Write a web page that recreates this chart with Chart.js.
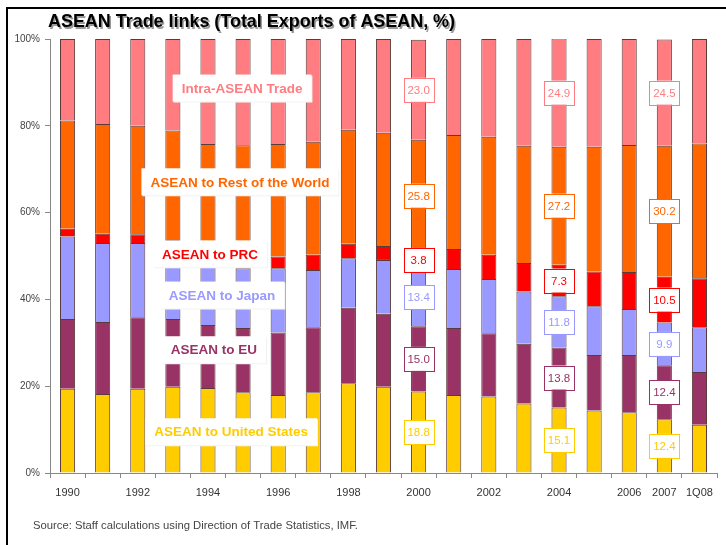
<!DOCTYPE html>
<html>
<head>
<meta charset="utf-8">
<script src="https://cdn.jsdelivr.net/npm/chart.js@4.4.1/dist/chart.umd.min.js"></script>
<style>
    html, body { margin: 0; padding: 0; background: #ffffff; }
</style>
</head>
<body>
<canvas id="tradeChart" width="726" height="545"></canvas>
<script>
// categories
var years = ['1990', '1991', '1992', '1993', '1994', '1995', '1996', '1997', '1998', '1999',
             '2000', '2001', '2002', '2003', '2004', '2005', '2006', '2007', '1Q08'];
var tickYears = ['1990', '1992', '1994', '1996', '1998', '2000', '2002', '2004', '2006', '2007', '1Q08'];
var yTicks = [0, 20, 40, 60, 80, 100];

// shares of total exports, % (bottom to top)
var usShare    = [19.4, 18.2, 19.4, 19.9, 19.6, 18.6, 18.0, 18.6, 20.7, 19.9, 18.8, 18.0, 17.6, 16.0, 15.1, 14.4, 14.0, 12.4, 11.1];
var euShare    = [16.1, 16.6, 16.5, 15.6, 14.5, 14.8, 14.4, 15.0, 17.4, 16.8, 15.0, 15.4, 14.6, 13.8, 13.8, 12.8, 13.2, 12.4, 12.2];
var japanShare = [19.0, 18.2, 17.1, 17.5, 16.4, 13.8, 14.8, 13.2, 11.4, 12.4, 13.4, 13.6, 12.5, 12.0, 11.8, 11.2, 10.6,  9.9, 10.3];
var prcShare   = [ 1.8,  2.1,  2.0,  0.7,  1.0,  0.8,  2.7,  3.5,  3.3,  3.2,  3.8,  4.6,  5.6,  6.6,  7.3,  8.0,  8.5, 10.5, 11.3];
var restShare  = [24.9, 25.3, 25.0, 25.2, 24.3, 27.5, 25.9, 26.0, 26.3, 26.1, 25.8, 26.3, 27.2, 27.0, 27.2, 28.8, 29.3, 30.2, 31.0];
var intraShare = [18.8, 19.6, 20.0, 21.1, 24.2, 24.5, 24.2, 23.7, 20.9, 21.6, 23.0, 22.1, 22.5, 24.6, 24.9, 24.8, 24.4, 24.5, 24.1];

var seriesNames = ['ASEAN to United States', 'ASEAN to EU', 'ASEAN to Japan', 'ASEAN to PRC',
                   'ASEAN to Rest of the World', 'Intra-ASEAN Trade'];
var labelledYears = ['2000', '2004', '2007'];

var colors = ['#FFCC00', '#993366', '#9999FF', '#FF0000', '#FF6600', '#FF7C80'];

// where the series names sit (category index, % value)
var nameSpots = [
    { col: 4.66, val: 9.5 },
    { col: 4.17, val: 28.4 },
    { col: 4.40, val: 41.0 },
    { col: 4.06, val: 50.5 },
    { col: 4.91, val: 67.1 },
    { col: 4.97, val: 88.7 }
];

var FONT = '"Liberation Sans", Arial, sans-serif';

var allSeries = [usShare, euShare, japanShare, prcShare, restShare, intraShare];
var datasets = allSeries.map(function(values, i) {
    return {
        label: seriesNames[i],
        data: values,
        backgroundColor: colors[i],
        borderColor: 'rgba(60, 25, 25, 0.85)',
        borderWidth: 1,
        categoryPercentage: 1,
        barPercentage: 0.43
    };
});

function fitText(ctx, text, x, y, width) {
    var w = ctx.measureText(text).width;
    ctx.save();
    ctx.translate(x, y);
    ctx.scale(width / w, 1);
    ctx.fillText(text, 0, 0);
    ctx.restore();
}

var annotations = {
    id: 'annotations',
    afterDatasetsDraw: function(chart) {
        var ctx = chart.ctx;
        var xs = chart.scales.x;
        var ys = chart.scales.y;
        ctx.save();

        // series names in white boxes
        ctx.font = 'bold 13.5px ' + FONT;
        ctx.textAlign = 'center';
        ctx.textBaseline = 'middle';
        nameSpots.forEach(function(spot, i) {
            var cx = xs.getPixelForValue(spot.col);
            var cy = ys.getPixelForValue(spot.val);
            var tw = ctx.measureText(seriesNames[i]).width;
            var bw = tw + 18, bh = 27;
            ctx.fillStyle = '#f2f2f2';
            ctx.fillRect(cx - bw / 2 + 1, cy - bh / 2 + 1, bw, bh);
            ctx.fillStyle = '#ffffff';
            ctx.fillRect(cx - bw / 2, cy - bh / 2, bw, bh);
            ctx.fillStyle = colors[i];
            ctx.fillText(seriesNames[i], cx, cy + 1);
        });

        // value boxes on chosen years
        ctx.font = '11.5px ' + FONT;
        chart.data.datasets.forEach(function(ds, di) {
            var meta = chart.getDatasetMeta(di);
            labelledYears.forEach(function(yr) {
                var idx = years.indexOf(yr);
                var bar = meta.data[idx].getProps(['x', 'y', 'base'], true);
                var cy = (bar.y + bar.base) / 2;
                var bw = 30, bh = 24;
                ctx.fillStyle = '#ffffff';
                ctx.fillRect(bar.x - bw / 2, cy - bh / 2, bw, bh);
                ctx.strokeStyle = colors[di];
                ctx.lineWidth = 1;
                ctx.strokeRect(Math.round(bar.x - bw / 2) + 0.5, Math.round(cy - bh / 2) + 0.5, bw, bh);
                ctx.fillStyle = colors[di];
                ctx.fillText(ds.data[idx].toFixed(1), bar.x, cy + 1);
            });
        });
        ctx.restore();
    },
    afterDraw: function(chart) {
        var ctx = chart.ctx;
        ctx.save();
        // frame
        ctx.fillStyle = '#000000';
        ctx.fillRect(6, 7, 720, 2);
        ctx.fillRect(6, 7, 2, 538);

        // title
        ctx.textAlign = 'left';
        ctx.textBaseline = 'alphabetic';
        ctx.font = 'bold 19px ' + FONT;
        ctx.fillStyle = '#9a9a9a';
        fitText(ctx, 'ASEAN Trade links (Total Exports of ASEAN, %)', 49.5, 28.5, 407);
        ctx.fillStyle = '#000000';
        fitText(ctx, 'ASEAN Trade links (Total Exports of ASEAN, %)', 48, 27, 407);

        // source line
        ctx.font = '10.5px ' + FONT;
        ctx.fillStyle = '#444444';
        fitText(ctx, 'Source: Staff calculations using Direction of Trade Statistics, IMF.', 33, 529, 325);
        ctx.restore();
    }
};

var ctx = document.getElementById('tradeChart').getContext('2d');
window.tradeChart = new Chart(ctx, {
    type: 'bar',
    data: {
        labels: years,
        datasets: datasets
    },
    options: {
        responsive: false,
        animation: false,
        layout: {
            padding: { top: 39, right: 9, bottom: 0, left: 0 }
        },
        plugins: {
            legend: { display: false },
            tooltip: { enabled: false },
            title: { display: false }
        },
        scales: {
            x: {
                stacked: true,
                grid: { drawOnChartArea: false, drawTicks: true, tickLength: 5, color: '#888888', offset: true },
                border: { color: '#888888' },
                ticks: {
                    autoSkip: false,
                    maxRotation: 0,
                    padding: 8,
                    color: '#333333',
                    font: { family: FONT, size: 11 },
                    callback: function(value, index) {
                        return tickYears.indexOf(years[index]) >= 0 ? years[index] : '';
                    }
                },
                afterFit: function(scale) { scale.height = 72; }
            },
            y: {
                stacked: true,
                min: yTicks[0],
                max: yTicks[yTicks.length - 1],
                grid: { drawOnChartArea: false, drawTicks: true, tickLength: 5, color: '#888888' },
                border: { color: '#888888' },
                ticks: {
                    stepSize: 20,
                    padding: 5,
                    color: '#444444',
                    font: { family: FONT, size: 10 },
                    callback: function(value) { return value + '%'; }
                },
                afterFit: function(scale) { scale.width = 50; }
            }
        }
    },
    plugins: [annotations]
});
</script>
</body>
</html>
